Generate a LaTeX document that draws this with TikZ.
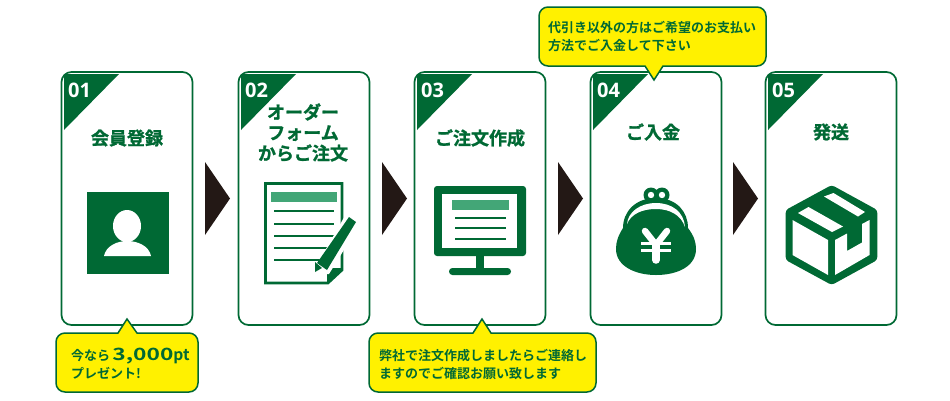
\documentclass[tikz,border=0pt]{standalone}
\usepackage{fontspec}
\setmainfont{Open Sans}
\newfontfamily\jpfont{Noto Sans CJK JP}[BoldFont={Noto Sans CJK JP Bold}]
\newfontfamily\jpheavy{Noto Sans CJK JP Bold}[FakeBold=1.2]
\usetikzlibrary{positioning}
\definecolor{dgreen}{HTML}{006934}
\definecolor{lgreen}{HTML}{43A677}
\definecolor{dyellow}{HTML}{FFF100}
\definecolor{dblack}{HTML}{231815}

\tikzset{
card/.style={draw=dgreen,line width=1.7pt,fill=white,rounded corners=10pt,minimum width=131pt,minimum height=253pt,inner sep=0pt},
num/.style={text=white,inner sep=0pt,font=\fontsize{20}{20}\selectfont\bfseries},
title/.style={text=dgreen,inner sep=0pt,align=center,font=\fontsize{18}{20.5}\selectfont\jpheavy},
note/.style={text=dgreen,inner sep=0pt,anchor=west,align=left,font=\fontsize{13}{18}\selectfont\jpfont\bfseries},
callout/.style={draw=dgreen,line width=1.5pt,fill=dyellow},
nextarrow/.style={fill=dblack,draw=none},
icon/.style={fill=dgreen,draw=none},
iconline/.style={draw=dgreen,line width=2pt}
}

\begin{document}
\begin{tikzpicture}[x=1pt,y=-1pt]
\useasboundingbox (0,0) rectangle (950,400);

% cards
\node[card] (card1) at (127,198.5) {};
\node[card] (card2) at (304,198.5) {};
\node[card] (card3) at (480,198.5) {};
\node[card] (card4) at (656,198.5) {};
\node[card] (card5) at (831,198.5) {};

% corner flags
\foreach \x/\t/\c in {64/01/card1,241/02/card2,417/03/card3,593/04/card4,768/05/card5}{
\fill[dgreen] (\x,74) -- (\x+55,74) -- (\x,130) -- cycle;
\node[num] (num\c) at (\x+15.5,90) {\t};
}

% arrows between the cards
\foreach \x in {205,382,558,733}
\fill[nextarrow] (\x,162) -- (\x+25,198.5) -- (\x,235) -- cycle;

% titles
\node[title] (title1) at (127,138) {会員登録};
\node[title] (title2) at (303,132.5) {オーダー\\フォーム\\からご注文};
\node[title] (title3) at (480,138) {ご注文作成};
\node[title] (title4) at (653,132) {ご入金};
\node[title] (title5) at (831,132) {発送};

% callouts
\draw[callout,rounded corners=9pt] (56,333) [sharp corners] -- (118,333) -- (127,319) -- (137,333) [rounded corners=9pt] -- (198,333) -- (198,392) -- (56,392) -- cycle;
\draw[callout,rounded corners=9pt] (369,333) [sharp corners] -- (473,333) -- (482,319) -- (491,333) [rounded corners=9pt] -- (596,333) -- (596,392) -- (369,392) -- cycle;
\draw[callout,rounded corners=9pt] (539,7) -- (766,7) -- (766,66) [sharp corners] -- (663,66) -- (654,80) -- (645,66) [rounded corners=9pt] -- (539,66) -- cycle;

\node[note] (note1) at (71,363.5) {今なら\,\raisebox{-.5pt}{\scalebox{1.75}[1.3]{3,000}}\scalebox{1.2}{pt}\\プレゼント!};
\node[note] (note3) at (379,364) {弊社で注文作成しましたらご連絡し\\ますのでご確認お願い致します};
\node[note] (note4) at (548,37) {代引き以外の方はご希望のお支払い\\方法でご入金して下さい};

% icon 1
\fill[icon] (87,192) rectangle (169,274);
\fill[white] (127,226) ellipse (14pt and 16pt);
\fill[white] (104,256) .. controls (106,246) and (117,241) .. (127,241) .. controls (138,241) and (149,246) .. (151,256) -- cycle;

% icon 2
\draw[dgreen,line width=2.6pt] (265.5,183.5) -- (342,183.5) -- (342,270) -- (328,283) -- (265.5,283) -- cycle;
\fill[icon] (343,268) -- (327,268) -- (327,284) -- cycle;
\fill[lgreen] (271,192) rectangle (337,202);
\foreach \y in {211,224,236,248,260}
\draw[iconline] (274,\y) -- (334,\y);
\fill[white] (346,214) -- (360,224) -- (329,274) -- (311,275) -- cycle;
\fill[icon] (349,217) -- (356,222) -- (327,270) -- (317,263) -- cycle;
\fill[icon] (315,262) -- (322,268) -- (315,272) -- cycle;

% icon 3
\fill[icon,rounded corners=3pt] (434,186) rectangle (526,256);
\fill[white] (442,194) rectangle (517,248);
\fill[lgreen] (452,200) rectangle (509,210);
\foreach \y in {217.5,228,239}
\draw[iconline] (455,\y) -- (506,\y);
\fill[icon] (476,256) rectangle (484,269);
\fill[icon,rounded corners=3.4pt] (449,268) rectangle (511,275);

% icon 4
\fill[icon] (651,195) circle (7.5pt);
\fill[icon] (662,195) circle (7.5pt);
\fill[white] (651,195) circle (3.2pt);
\fill[white] (662,195) circle (3.2pt);
\fill[icon] (656,198) .. controls (635,198) and (623,212) .. (623,228) .. controls (618,236) and (616,242) .. (616,249) .. controls (616,266) and (635,275) .. (656,275) .. controls (678,275) and (696,266) .. (696,249) .. controls (696,242) and (694,236) .. (688,228) .. controls (688,212) and (677,198) .. (656,198) -- cycle;
\fill[white] (627,224) .. controls (628,212) and (640,203) .. (656,203) .. controls (672,203) and (684,212) .. (685,227) .. controls (681,215) and (670,209) .. (656,209) .. controls (642,209) and (631,214) .. (627,224) -- cycle;
\draw[white,line width=6.5pt,line cap=round] (645,231) -- (656,245) -- (667,231);
\draw[white,line width=7.5pt,line cap=round] (656,245) -- (656,260);
\draw[white,line width=3pt] (641,243) -- (671,243);
\draw[white,line width=3pt] (641,250) -- (671,250);

% icon 5
\fill[icon,rounded corners=3pt] (831.7,185) -- (877.3,210) -- (877.3,260) -- (831.7,285) -- (785.7,260) -- (785.7,210) -- cycle;
\fill[white] (792.5,220) -- (828,240) -- (828,275) -- (792.5,255) -- cycle;
\fill[white] (835,240) -- (847,233.5) -- (847,251) -- (862,242.5) -- (862,224) -- (869.5,220) -- (869.5,255) -- (835,275) -- cycle;
\fill[white] (798,213) -- (808.5,207) -- (843,226.5) -- (832,232) -- cycle;
\fill[white] (824,196.5) -- (833.5,193) -- (865,212) -- (858,216.5) -- cycle;
\end{tikzpicture}
\end{document}
